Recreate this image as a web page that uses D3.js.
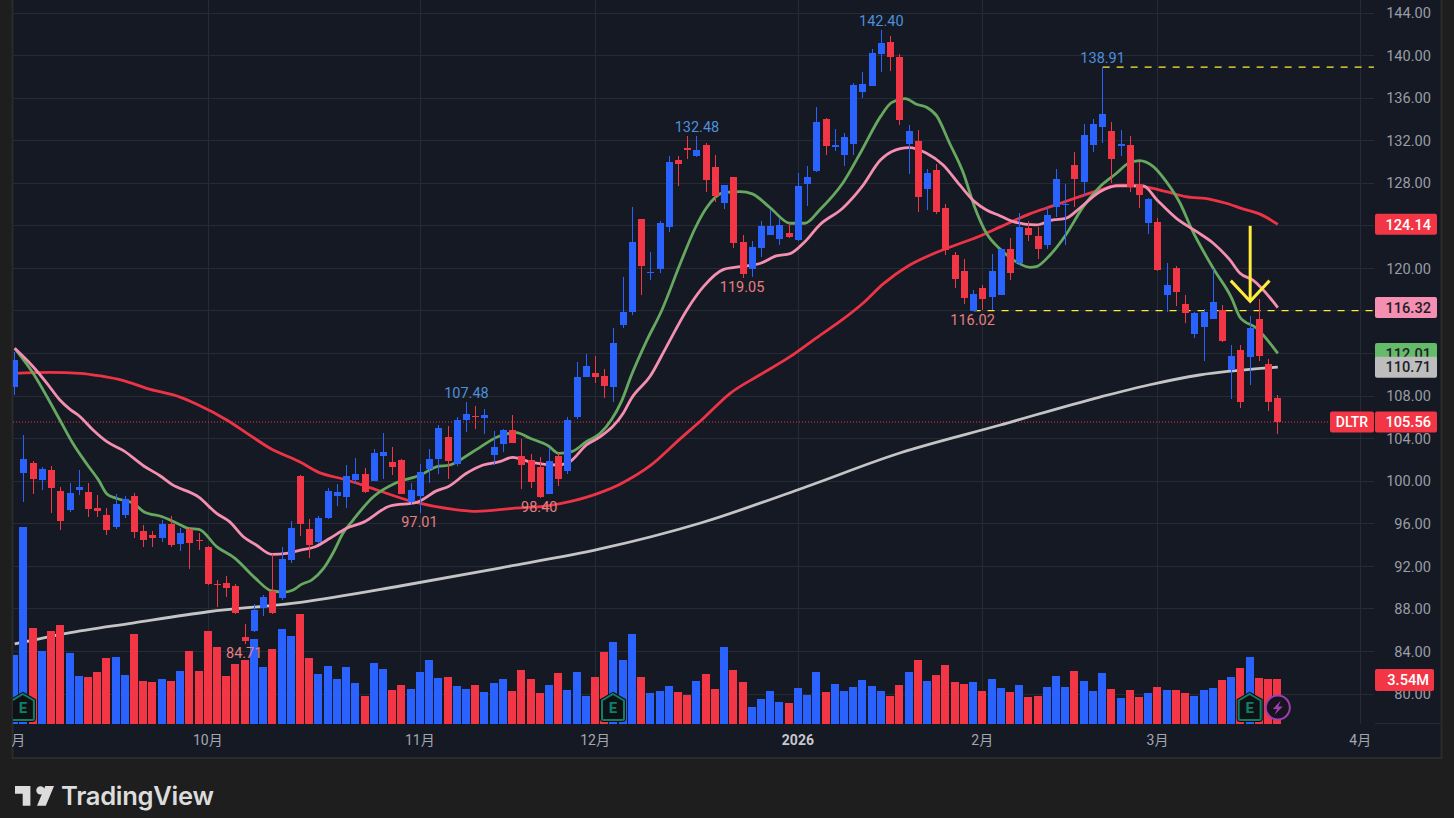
<!DOCTYPE html>
<html>
<head>
<meta charset="utf-8">
<title>DLTR</title>
<script src="https://cdn.jsdelivr.net/npm/d3@7"></script>
<style>
  html, body { margin: 0; padding: 0; background: #1e1e1e; overflow: hidden; }
  text { font-family: Roboto, "Noto Sans CJK SC", sans-serif; }
</style>
</head>
<body>
<div id="my_viz"></div>
<script>
const opens = [
    108.88, 100.77, 101.71, 100.11, 101.05, 99.08, 97.29, 99.17, 98.98, 97.48,
    96.82, 95.69, 96.82, 98.61, 95.32, 94.94, 94.66, 95.98, 94.1, 95.5,
    94.47, 93.81, 90.34, 90.43, 90.15, 85.36, 85.92, 88.08, 89.68, 89.02,
    92.59, 100.49, 95.5, 94.28, 96.54, 98.61, 98.51, 100.11, 100.68, 100.02,
    102.37, 101.8, 101.99, 98.04, 98.61, 101.15, 102.09, 104.15, 101.62, 105.75,
    106.13, 105.94, 102.46, 103.49, 104.81, 102.37, 101.99, 101.36, 98.8, 102.37,
    100.96, 106.03, 109.79, 110.17, 109.89, 108.85, 114.68, 115.9, 124.65, 119.57,
    119.95, 123.89, 130.19, 131.32, 130.57, 131.6, 129.53, 126.15, 128.59, 122.48,
    119.95, 121.92, 123.14, 122.77, 123.33, 122.67, 127.94, 129.16, 134.04, 131.41,
    130.66, 131.7, 136.58, 137.15, 140.15, 141.28, 139.87, 131.7, 131.98, 127.47,
    129.25, 125.68, 121.26, 119.76, 116.02, 118.16, 117.31, 117.5, 121.83, 120.51,
    123.8, 123.05, 122.2, 125.77, 125.96, 129.72, 128.12, 131.6, 133.29, 132.92,
    131.5, 131.6, 127.84, 124.27, 124.36, 117.5, 120.04, 116.66, 113.84, 114.49,
    115.24, 116.09, 110.45, 112.33, 111.67, 115.24, 111.02, 107.82
];
const closes = [
    111.39, 102.09, 100.21, 101.15, 99.36, 96.26, 98.89, 99.45, 97.39, 97.2,
    95.41, 97.86, 98.33, 95.22, 94.47, 94.66, 95.98, 93.96, 95.13, 94.19,
    94.38, 90.34, 90.24, 89.96, 87.61, 84.98, 87.89, 89.11, 87.61, 92.69,
    95.6, 95.98, 94.0, 96.54, 99.08, 98.98, 100.49, 100.68, 98.98, 102.65,
    102.74, 101.33, 98.8, 99.17, 100.86, 102.09, 105.0, 101.9, 105.75, 106.32,
    106.03, 106.22, 103.21, 104.81, 103.59, 101.52, 99.92, 98.51, 101.9, 100.21,
    105.75, 109.79, 110.83, 109.79, 108.95, 113.0, 115.9, 122.48, 120.23, 119.66,
    124.27, 130.0, 129.81, 131.13, 131.13, 128.31, 126.81, 127.84, 122.39, 119.48,
    122.01, 123.99, 123.99, 124.08, 122.95, 127.75, 128.59, 133.76, 131.51, 131.6,
    132.35, 137.24, 137.33, 140.25, 141.19, 139.87, 133.95, 132.92, 126.71, 128.97,
    125.3, 121.73, 119.01, 117.22, 117.6, 117.13, 119.76, 121.83, 119.57, 123.89,
    123.14, 121.83, 125.0, 128.4, 126.06, 128.4, 132.54, 133.57, 134.51, 130.28,
    131.7, 127.65, 126.9, 126.53, 119.85, 118.44, 117.78, 115.81, 115.81, 115.9,
    116.84, 113.18, 111.77, 107.44, 114.4, 111.77, 107.44, 105.56
];
const highs = [
    112.17, 104.34, 101.9, 101.33, 101.43, 99.42, 99.83, 101.05, 99.83, 98.7,
    97.48, 98.8, 98.58, 98.89, 95.88, 95.32, 96.35, 96.73, 95.6, 95.6,
    95.13, 93.91, 90.71, 91.09, 90.34, 86.58, 88.46, 89.3, 93.16, 93.81,
    96.26, 100.58, 96.44, 96.73, 99.36, 99.73, 101.52, 102.18, 101.24, 103.03,
    104.53, 103.21, 102.09, 99.83, 101.62, 103.03, 105.28, 105.19, 106.03, 107.48,
    107.07, 106.78, 104.72, 104.9, 106.22, 103.96, 102.56, 102.27, 103.12, 102.65,
    106.03, 111.2, 111.95, 111.77, 110.55, 114.4, 119.2, 125.77, 124.65, 121.54,
    124.46, 130.57, 130.57, 132.45, 132.48, 131.79, 130.66, 127.84, 128.59, 123.14,
    122.58, 124.46, 125.49, 124.74, 124.27, 128.97, 129.63, 135.17, 134.14, 133.1,
    132.73, 137.43, 138.46, 140.62, 142.4, 141.85, 140.15, 133.48, 133.01, 129.35,
    129.82, 126.06, 121.54, 120.89, 117.97, 118.44, 121.36, 121.83, 122.86, 125.21,
    124.46, 123.89, 125.77, 129.34, 127.94, 130.94, 133.57, 134.04, 138.91, 133.76,
    133.01, 132.45, 130.0, 126.62, 124.74, 120.51, 120.23, 117.5, 115.9, 116.18,
    119.94, 116.56, 112.8, 112.8, 115.53, 117.12, 111.49, 108.1
];
const lows = [
    108.1, 98.07, 98.8, 99.17, 97.0, 95.41, 97.1, 98.7, 96.63, 96.63,
    94.94, 95.5, 96.54, 94.66, 93.81, 93.81, 94.28, 93.81, 93.44, 91.75,
    93.53, 90.24, 88.17, 89.11, 87.52, 84.71, 85.83, 87.33, 87.55, 88.83,
    92.31, 94.85, 92.78, 94.19, 96.45, 97.67, 97.48, 99.73, 98.89, 100.0,
    100.21, 100.58, 98.75, 97.76, 97.01, 99.83, 100.68, 100.21, 101.43, 104.62,
    104.9, 104.43, 101.52, 102.74, 103.55, 99.27, 99.36, 98.4, 98.75, 99.55,
    100.68, 105.84, 109.75, 109.23, 107.82, 107.44, 114.4, 115.62, 117.5, 118.91,
    119.57, 123.42, 127.75, 130.28, 130.47, 127.18, 126.24, 125.58, 121.92, 119.05,
    119.19, 121.07, 123.1, 122.2, 122.86, 122.6, 125.87, 129.06, 130.66, 131.04,
    129.63, 130.66, 136.02, 137.1, 138.46, 138.56, 133.48, 128.88, 125.3, 125.49,
    125.12, 121.26, 118.16, 116.66, 116.02, 116.09, 116.09, 117.5, 118.91, 120.32,
    122.58, 120.89, 121.83, 124.83, 122.2, 125.77, 126.81, 130.94, 131.79, 128.03,
    130.57, 127.18, 125.68, 123.24, 119.8, 115.9, 116.47, 114.87, 113.46, 111.3,
    115.2, 113.08, 107.73, 106.88, 109.04, 111.3, 106.6, 104.44
];
// volume in millions
const volumes = [
    5.43, 15.5, 7.56, 5.75, 7.32, 7.8, 5.59, 3.78, 3.7, 4.09,
    5.2, 5.28, 3.86, 7.09, 3.39, 3.31, 3.54, 3.39, 4.17, 5.75,
    4.17, 7.32, 6.06, 3.78, 4.72, 5.04, 6.69, 4.49, 5.91, 7.48,
    6.93, 8.66, 5.2, 3.94, 4.57, 3.54, 4.49, 3.23, 2.2, 4.8,
    4.33, 2.68, 3.07, 2.76, 4.09, 5.04, 3.62, 3.7, 2.99, 2.76,
    3.07, 2.52, 3.23, 3.54, 2.6, 4.25, 3.54, 2.44, 3.07, 4.02,
    2.68, 4.09, 2.2, 3.7, 5.67, 6.46, 5.04, 7.09, 3.7, 2.44,
    2.6, 2.99, 2.52, 2.28, 3.39, 3.94, 2.76, 6.06, 4.25, 3.31,
    1.34, 1.97, 2.6, 1.73, 1.65, 2.83, 2.28, 4.09, 2.52, 3.15,
    2.6, 2.91, 3.46, 2.99, 2.6, 2.2, 3.07, 4.09, 5.04, 3.39,
    3.86, 4.65, 3.31, 3.15, 3.31, 2.6, 3.54, 2.83, 2.52, 3.07,
    2.13, 2.2, 2.91, 3.78, 2.91, 4.17, 3.39, 2.6, 4.02, 2.76,
    2.05, 2.68, 2.13, 2.44, 2.91, 2.68, 2.68, 2.44, 2.2, 2.68,
    2.83, 3.46, 3.7, 4.41, 5.28, 3.62, 3.54, 3.54
];

// moving averages, read as [bar index, price]
const fastMa = [
    [0, 112.49], [2, 110.14], [3.5, 107.94], [4.9, 105.75], [6.3, 103.56], [7.9, 101.52], [9.1, 100.1], [10, 98.8],
    [11, 98.39], [12.9, 97.92], [14, 97.13], [16, 96.66], [18, 95.88], [18.8, 95.57], [20, 95.47], [21.9, 93.85],
    [23.9, 92.75], [26, 90.96], [27.9, 89.68], [29.3, 89.58], [30.2, 89.77], [31.1, 90.3], [32.2, 90.71], [33.5, 91.8],
    [34.6, 93.37], [35.6, 95.1], [36.7, 96.35], [38.9, 98.54], [41.4, 99.86], [44, 100.58], [45.8, 101.36], [47.2, 101.52],
    [49.7, 102.77], [52.6, 104.25], [54.4, 104.56], [55.9, 104.03], [57.9, 103.31], [59, 102.62], [60.4, 102.77], [62, 103.71],
    [63.5, 104.5], [64.7, 105.75], [65.8, 107.48], [66.9, 109.98], [68.5, 113.12], [70.2, 116.09], [72.2, 120.48], [73.8, 123.77],
    [75, 125.65], [76.9, 127.12], [78.7, 127.21], [80, 127.0], [82, 125.65], [84.1, 124.24], [85.7, 124.24], [87.3, 125.49],
    [89.8, 128.0], [91.9, 131.13], [93.9, 134.26], [95.1, 135.58], [96.6, 135.96], [97.8, 135.42], [98.9, 135.14], [100, 134.33],
    [101.4, 131.76], [102.9, 128.94], [104.1, 125.8], [105.4, 123.3], [106.9, 121.8], [108.9, 120.48], [110.1, 120.1], [110.8, 120.17],
    [112.3, 121.26], [114, 123.14], [115.9, 125.8], [117.7, 127.68], [119.5, 128.94], [120.8, 129.88], [122, 130.13], [123.5, 129.56],
    [124.9, 128.15], [126.4, 126.12], [127.7, 123.61], [130, 120.0], [132, 117.19], [132.9, 115.4], [134.7, 114.37], [137, 112.01]
];
const midMa = [
    [0, 112.49], [2, 110.76], [3.5, 109.2], [4.9, 107.63], [6, 106.75], [7, 106.13], [8.5, 104.81], [10, 103.71],
    [11.8, 102.87], [14, 101.43], [15.8, 100.49], [17, 99.73], [20, 98.48], [21.9, 96.98], [23.3, 96.2], [24.8, 94.78],
    [26.2, 94.0], [27.9, 93.12], [29.5, 93.22], [31, 93.53], [32.6, 93.84], [34.2, 94.63], [36, 95.57], [37.8, 96.13],
    [40.7, 97.67], [43.6, 98.01], [45.8, 99.11], [47, 99.48], [49, 100.74], [50.8, 101.52], [52.6, 101.83], [54, 102.24],
    [56.2, 101.74], [58.8, 101.52], [60.2, 101.83], [62, 103.4], [63.5, 104.18], [66, 106.38], [66.9, 107.79], [68.9, 109.83],
    [70.7, 112.65], [72.9, 116.09], [74.7, 118.28], [76.9, 119.91], [78.7, 120.16], [80.9, 120.48], [82.6, 121.17], [84.1, 121.38],
    [85.7, 122.5], [87.3, 124.08], [89.8, 125.65], [91.9, 127.68], [93.9, 130.19], [95.1, 130.97], [97, 131.35], [98.9, 130.82],
    [100.7, 129.72], [102.5, 127.84], [104.1, 126.27], [105.4, 125.49], [106.9, 124.93], [108.3, 124.4], [110.8, 124.08], [112.6, 124.55],
    [114, 124.7], [115.5, 125.65], [117.7, 127.2], [119.5, 127.75], [122.4, 127.75], [123.9, 126.43], [126, 124.7], [128.2, 123.45],
    [130, 122.36], [131.8, 120.79], [132.9, 119.54], [134.3, 118.9], [137, 116.32]
];
const slowMa = [
    [0, 110.14], [3.8, 110.23], [7.1, 110.14], [9.3, 109.89], [11.8, 109.45], [14.3, 108.73], [18, 107.88], [19.7, 107.25],
    [23, 105.75], [25.2, 104.5], [27.7, 103.09], [31, 101.77], [32.8, 100.9], [36, 100.11], [39.3, 99.17], [43.2, 98.07],
    [47.6, 97.35], [50.1, 97.17], [54, 97.45], [57.7, 97.67], [60.2, 98.07], [63.5, 98.92], [65.6, 99.7], [69, 101.5],
    [72.2, 104.0], [74.5, 105.75], [77.6, 108.26], [80.8, 109.98], [84.1, 111.7], [87, 113.5], [89.8, 115.2], [92, 116.72],
    [94.2, 118.54], [96.9, 120.23], [98.9, 121.1], [101.1, 121.89], [104.7, 123.05], [106.9, 123.9], [110.1, 125.12], [112.6, 125.87],
    [115.5, 126.74], [117.7, 127.37], [119.9, 127.81], [122.4, 127.68], [124.9, 127.21], [127, 126.74], [129.7, 126.49], [131.4, 126.12],
    [133.2, 125.59], [135, 125.12], [137, 124.14]
];
const longMa = [
    [0, 84.7], [5.6, 85.7], [12.8, 86.67], [21, 87.73], [31, 88.62], [41.8, 90.15], [52.6, 91.84], [63.5, 93.63],
    [74.4, 96.07], [85.2, 99.27], [96, 102.65], [106.9, 105.28], [117.7, 107.91], [123, 109.04], [128.5, 109.98], [137, 110.71]
];

const priceTicks = d3.range(80, 145, 4);
const coveredTicks = [124, 116, 112];
const monthBars = [0, 21, 44, 63, 85, 105, 124, 146];
const monthLabels = ['9月', '10月', '11月', '12月', '2026', '2月', '3月', '4月'];
const highLabelBars = [49, 74, 94, 118];
const lowLabelBars = [25, 44, 57, 79, 104];
const earningsBars = [1, 65, 134];
const lastPrice = 105.56;
const lastVolume = 3.54;

const width = 1454;
const height = 818;
const plot = { left: 13, right: 1374, bottom: 724, panelRight: 1441, panelBottom: 758 };
const upColor = '#2962ff';
const downColor = '#f23645';
const gridColor = '#262a34';

const svg = d3.select('#my_viz')
    .append('svg')
    .attr('width', width)
    .attr('height', height)
    .style('display', 'block');

const x = d3.scaleLinear().domain([0, 146]).range([14.7, 1360.8]);
const y = d3.scaleLinear().domain([80, 144]).range([694, 13]);
const yVol = d3.scaleLinear().domain([0, 15.5]).range([724, 527]);

svg.append('rect').attr('width', width).attr('height', height).attr('fill', '#1e1e1e');
svg.append('rect')
    .attr('x', plot.left - 0.5).attr('y', -2)
    .attr('width', plot.panelRight - plot.left + 1).attr('height', plot.panelBottom + 2)
    .attr('fill', '#151924')
    .attr('stroke', '#2b2b2b')
    .attr('stroke-width', 2);

svg.append('clipPath').attr('id', 'plot-clip')
    .append('rect')
    .attr('x', plot.left).attr('y', 0)
    .attr('width', plot.right - plot.left).attr('height', plot.bottom);
svg.append('clipPath').attr('id', 'panel-clip')
    .append('rect')
    .attr('x', plot.left).attr('y', -plot.bottom)
    .attr('width', plot.panelRight - plot.left).attr('height', plot.panelBottom + plot.bottom);

// grid
const grid = svg.append('g').attr('stroke', gridColor).attr('shape-rendering', 'crispEdges');
grid.selectAll('line.h').data(priceTicks).join('line')
    .attr('class', 'h')
    .attr('x1', plot.left).attr('x2', plot.right)
    .attr('y1', d => y(d)).attr('y2', d => y(d));
grid.selectAll('line.v').data(monthBars.slice(1)).join('line')
    .attr('class', 'v')
    .attr('y1', 0).attr('y2', plot.bottom)
    .attr('x1', d => x(d)).attr('x2', d => x(d));
grid.append('line')
    .attr('x1', plot.right + 1).attr('x2', plot.panelRight)
    .attr('y1', plot.bottom - 1).attr('y2', plot.bottom - 1);

const chart = svg.append('g').attr('clip-path', 'url(#plot-clip)');

// horizontal levels
chart.append('line')
    .attr('x1', plot.left).attr('x2', 1330)
    .attr('y1', y(lastPrice)).attr('y2', y(lastPrice))
    .attr('stroke', downColor).attr('stroke-dasharray', '1 2');
[[104, lows[104]], [118, highs[118]]].forEach(d => {
    chart.append('line')
        .attr('x1', x(d[0])).attr('x2', plot.right)
        .attr('y1', y(d[1])).attr('y2', y(d[1]))
        .attr('stroke', '#ffeb3b').attr('stroke-width', 1.3).attr('stroke-dasharray', '7 7');
});

// moving averages
const maLine = d3.line().x(d => x(d[0])).y(d => y(d[1])).curve(d3.curveMonotoneX);
const maSeries = [
    { points: longMa, color: '#c4c4c4' },
    { points: slowMa, color: '#ef3347' },
    { points: fastMa, color: '#66a85f' },
    { points: midMa, color: '#f48fb1' }
];
chart.selectAll('path.ma').data(maSeries).join('path')
    .attr('class', 'ma')
    .attr('fill', 'none')
    .attr('stroke', d => d.color)
    .attr('stroke-width', 2.8)
    .attr('stroke-linejoin', 'round')
    .attr('d', d => maLine(d.points));

// high / low labels
const extremeLabel = svg.append('g').attr('font-size', 14.5).attr('text-anchor', 'middle').attr('clip-path', 'url(#plot-clip)');
extremeLabel.selectAll('text.hi').data(highLabelBars).join('text')
    .attr('class', 'hi')
    .attr('x', d => x(d)).attr('y', d => y(highs[d]) - 4)
    .attr('fill', '#4d90dc')
    .text(d => highs[d].toFixed(2));
extremeLabel.selectAll('text.lo').data(lowLabelBars).join('text')
    .attr('class', 'lo')
    .attr('x', d => x(d) - 1).attr('y', d => y(lows[d]) + 14)
    .attr('fill', '#e57f80')
    .text(d => lows[d].toFixed(2));

const bars = d3.range(opens.length);
const barColor = i => closes[i] >= opens[i] ? upColor : downColor;
const barCenter = i => Math.floor(x(i));

// volume
chart.append('g').attr('shape-rendering', 'crispEdges')
    .selectAll('rect').data(bars).join('rect')
    .attr('x', i => barCenter(i) - 4)
    .attr('y', i => yVol(volumes[i]))
    .attr('width', 8)
    .attr('height', i => yVol(0) - yVol(volumes[i]))
    .attr('fill', barColor);

// candles
const candles = chart.append('g').attr('shape-rendering', 'crispEdges');
candles.selectAll('rect.wick').data(bars).join('rect')
    .attr('class', 'wick')
    .attr('x', barCenter)
    .attr('y', i => y(highs[i]))
    .attr('width', 1)
    .attr('height', i => y(lows[i]) - y(highs[i]))
    .attr('fill', barColor);
candles.selectAll('rect.body').data(bars).join('rect')
    .attr('class', 'body')
    .attr('x', i => barCenter(i) - 3)
    .attr('y', i => y(Math.max(opens[i], closes[i])))
    .attr('width', 7)
    .attr('height', i => Math.max(1, Math.abs(y(opens[i]) - y(closes[i]))))
    .attr('fill', barColor);

// arrow drawing
const arrowLine = d3.line().x(d => x(d[0])).y(d => y(d[1]));
svg.append('g')
    .attr('fill', 'none')
    .attr('stroke', '#ffeb3b')
    .attr('stroke-width', 3)
    .selectAll('path')
    .data([[[134, 124], [134, 116.9]], [[131.9, 118.85], [134, 116.9], [136.1, 118.85]]])
    .join('path')
    .attr('d', arrowLine);

// axes
const yAxis = svg.append('g')
    .attr('transform', `translate(${plot.right}, 0)`)
    .call(d3.axisRight(y).tickValues(priceTicks.filter(d => !coveredTicks.includes(d))).tickSize(0).tickFormat(d => d.toFixed(2)));
yAxis.select('.domain').remove();
yAxis.selectAll('text')
    .attr('x', 57)
    .attr('text-anchor', 'end')
    .attr('font-size', 14.6)
    .attr('font-family', 'Roboto')
    .attr('fill', '#9a9da6');

const xAxis = svg.append('g')
    .attr('clip-path', 'url(#panel-clip)')
    .attr('transform', `translate(-1, ${plot.bottom})`)
    .call(d3.axisBottom(x).tickValues(monthBars).tickSize(0).tickPadding(11).tickFormat((d, i) => monthLabels[i]));
xAxis.select('.domain').remove();
xAxis.selectAll('text')
    .attr('font-size', 14)
    .attr('font-family', 'Roboto, "Noto Sans CJK SC"')
    .attr('fill', d => d === 85 ? '#c5c7ce' : '#a4a7b0')
    .attr('font-weight', d => d === 85 ? 700 : 400);

// price tags on the right
const tags = [
    { value: 124.14, fill: '#f23645', ink: '#ffffff' },
    { value: 116.32, fill: '#f48fb1', ink: '#1d1f27' },
    { value: 112.01, fill: '#66bb6a', ink: '#1d1f27' },
    { value: 110.71, fill: '#bdbdbd', ink: '#1d1f27' },
    { value: lastPrice, fill: '#f23645', ink: '#ffffff' }
];
const tag = svg.append('g').selectAll('g').data(tags).join('g')
    .attr('transform', d => `translate(${plot.right + 1}, ${y(d.value)})`);
tag.append('rect')
    .attr('y', -10.5).attr('width', 62).attr('height', 21).attr('rx', 2)
    .attr('fill', d => d.fill);
tag.append('text')
    .attr('x', 56).attr('dy', '0.36em')
    .attr('text-anchor', 'end')
    .attr('font-size', 14.6)
    .attr('font-weight', 500)
    .attr('fill', d => d.ink)
    .text(d => d.value.toFixed(2));

const symbolTag = svg.append('g').attr('transform', `translate(1330, ${y(lastPrice)})`);
symbolTag.append('rect').attr('y', -10.5).attr('width', 44).attr('height', 21).attr('rx', 2).attr('fill', downColor);
symbolTag.append('text').attr('x', 22).attr('dy', '0.36em').attr('text-anchor', 'middle')
    .attr('font-size', 14).attr('font-weight', 500).attr('fill', '#ffffff').text('DLTR');

const volTag = svg.append('g').attr('transform', `translate(${plot.right + 1}, ${yVol(lastVolume) + 1})`);
volTag.append('rect').attr('y', -11).attr('width', 59).attr('height', 22).attr('rx', 2).attr('fill', downColor);
volTag.append('text').attr('x', 54).attr('dy', '0.36em').attr('text-anchor', 'end')
    .attr('font-size', 14.6).attr('font-weight', 500).attr('fill', '#ffffff').text(lastVolume.toFixed(2) + 'M');

// earnings markers
const earnings = svg.append('g').attr('clip-path', 'url(#plot-clip)')
    .selectAll('g').data(earningsBars).join('g')
    .attr('transform', d => `translate(${x(d) + (d === 1 ? -1 : d === 65 ? -1 : -0.5)}, 707)`);
const house = 'M0,-13 L11,-6.5 L11,11.5 Q11,13 9.5,13 L-9.5,13 Q-11,13 -11,11.5 L-11,-6.5 Z';
earnings.append('path').attr('d', house).attr('fill', '#0e1214').attr('stroke', '#0b0d12').attr('stroke-width', 4);
earnings.append('path').attr('d', house).attr('fill', '#0e1214').attr('stroke', '#0d8068').attr('stroke-width', 2);
earnings.append('text')
    .attr('y', 6).attr('text-anchor', 'middle')
    .attr('font-size', 15).attr('font-weight', 700)
    .attr('fill', '#0d8068')
    .text('E');

// bolt marker
const bolt = svg.append('g').attr('transform', `translate(${x(137)}, 707.5)`);
bolt.append('circle').attr('r', 12).attr('fill', '#17131f').attr('stroke', '#9c3fb0').attr('stroke-width', 2);
bolt.append('path').attr('d', 'M3,-7 L-5,1.5 L-0.5,1.5 L-3.5,7.5 L5,-1 L0.5,-1 Z').attr('fill', '#9c3fb0');

// logo
const logo = svg.append('g').attr('fill', '#dcdcdc');
logo.append('path')
    .attr('transform', 'translate(15, 781.6) scale(1.1)')
    .attr('d', 'M14 22H7V11H0V4h14v18zM28 22h-8l7.5-18h8L28 22z');
logo.append('circle').attr('cx', 40.5).attr('cy', 790.4).attr('r', 4.2);
logo.append('text')
    .attr('x', 61).attr('y', 805)
    .attr('font-size', 25.6)
    .attr('font-weight', 600)
    .attr('letter-spacing', -0.3)
    .attr('fill', '#dcdcdc')
    .style('font-family', 'Inter')
    .text('TradingView');
</script>
</body>
</html>
